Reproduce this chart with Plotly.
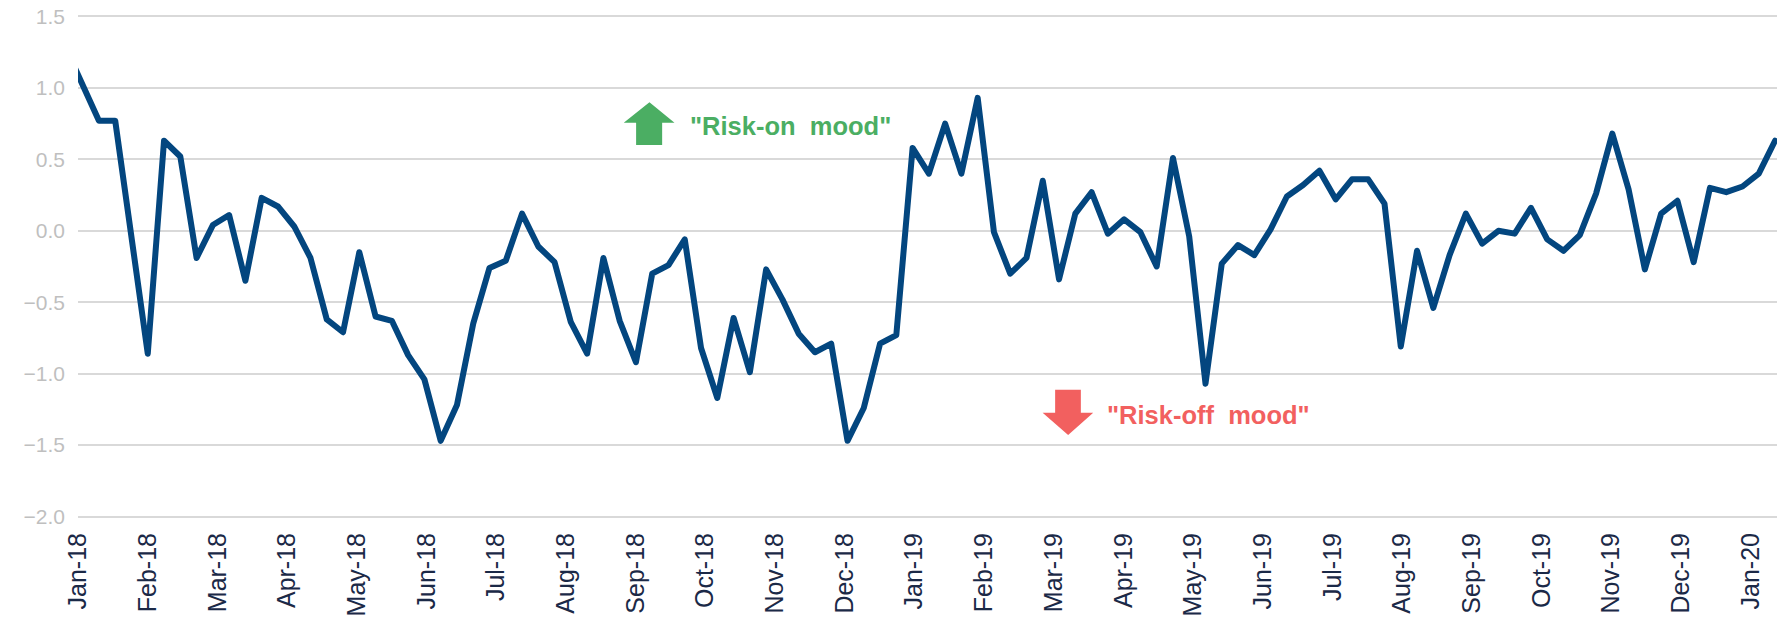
import plotly.graph_objects as go

# weekly risk-appetite reading, Jan-18 .. Jan-20 (one value per week)
RISK_INDEX = [
    1.27, 1.02, 0.77, 0.77, -0.04, -0.86, 0.63, 0.52, -0.19, 0.04,
    0.11, -0.35, 0.23, 0.17, 0.03, -0.19, -0.62, -0.71, -0.15, -0.60,
    -0.63, -0.87, -1.04, -1.47, -1.22, -0.65, -0.26, -0.21, 0.12, -0.11,
    -0.22, -0.64, -0.86, -0.19, -0.63, -0.92, -0.30, -0.24, -0.06, -0.82,
    -1.17, -0.61, -0.99, -0.27, -0.48, -0.72, -0.85, -0.79, -1.47, -1.24,
    -0.79, -0.73, 0.58, 0.40, 0.75, 0.40, 0.93, -0.01, -0.30, -0.19,
    0.35, -0.34, 0.12, 0.27, -0.02, 0.08, -0.01, -0.25, 0.51, -0.04,
    -1.07, -0.23, -0.10, -0.17, 0.01, 0.24, 0.32, 0.42, 0.22, 0.36,
    0.36, 0.19, -0.81, -0.14, -0.54, -0.17, 0.12, -0.09, 0.00, -0.02,
    0.16, -0.06, -0.14, -0.03, 0.26, 0.68, 0.29, -0.27, 0.12, 0.21,
    -0.22, 0.30, 0.27, 0.31, 0.40, 0.63,
]
WEEKS = list(range(len(RISK_INDEX)))

MONTH_LABELS = [
    "Jan-18", "Feb-18", "Mar-18", "Apr-18", "May-18", "Jun-18", "Jul-18",
    "Aug-18", "Sep-18", "Oct-18", "Nov-18", "Dec-18", "Jan-19", "Feb-19",
    "Mar-19", "Apr-19", "May-19", "Jun-19", "Jul-19", "Aug-19", "Sep-19",
    "Oct-19", "Nov-19", "Dec-19", "Jan-20",
]
# month ticks sit at even spacing on the week scale
FIRST_TICK = 0.713
MONTH_STEP = 4.283
month_ticks = [FIRST_TICK + k * MONTH_STEP for k in range(len(MONTH_LABELS))]
X_RANGE = [FIRST_TICK, 105.12]
# tiny pad so the 1.5 / -2.0 gridlines are not dropped at the plot edge
Y_RANGE = [-2.01, 1.51]

FONT = "Arial, 'Liberation Sans', sans-serif"
LINE_BLUE = "#03467F"
GRID = "#D9D9D9"
GREEN = "#4BAE63"
RED = "#F2605F"

fig = go.Figure()
fig.add_trace(go.Scatter(
    x=WEEKS, y=RISK_INDEX, mode="lines",
    line=dict(color=LINE_BLUE, width=6),
    showlegend=False, hoverinfo="y",
))

# block arrows (data coords so they stay put with the axes)
green_arrow = ("M 34.25,0.756 L 35.83,0.899 L 37.37,0.756 L 36.61,0.756 "
               "L 36.61,0.601 L 35.01,0.601 L 35.01,0.756 Z")
red_arrow = ("M 60.76,-1.113 L 62.34,-1.113 L 62.34,-1.274 L 63.10,-1.274 "
             "L 61.56,-1.429 L 59.99,-1.274 L 60.76,-1.274 Z")
fig.add_shape(type="path", path=green_arrow, xref="x", yref="y",
              fillcolor=GREEN, line=dict(width=0))
fig.add_shape(type="path", path=red_arrow, xref="x", yref="y",
              fillcolor=RED, line=dict(width=0))

fig.add_annotation(x=38.2, y=0.733, xref="x", yref="y", xanchor="left", yanchor="middle",
                   text="\"Risk-on\u00a0\u00a0mood\"", showarrow=False,
                   font=dict(family=FONT, size=25.5, color=GREEN, weight="bold"))
fig.add_annotation(x=63.85, y=-1.29, xref="x", yref="y", xanchor="left", yanchor="middle",
                   text="\"Risk-off\u00a0\u00a0mood\"", showarrow=False,
                   font=dict(family=FONT, size=25.5, color=RED, weight="bold"))

fig.update_layout(
    width=1779, height=618,
    margin=dict(l=78, r=2, t=15, b=96),
    plot_bgcolor="white", paper_bgcolor="white",
    font=dict(family=FONT),
    xaxis=dict(
        range=X_RANGE, tickmode="array", tickvals=month_ticks, ticktext=MONTH_LABELS,
        tickangle=-90, showgrid=False, zeroline=False, showline=False, ticks="",
        ticklabelstandoff=9,
        tickfont=dict(family=FONT, size=25, color="#1B2947"),
    ),
    # zero-crossing axis line with the month tick marks
    xaxis2=dict(
        overlaying="x", anchor="free", position=(0 - Y_RANGE[0]) / (Y_RANGE[1] - Y_RANGE[0]),
        range=X_RANGE, tickmode="array", tickvals=month_ticks,
        showticklabels=False, ticks="outside", ticklen=7, tickwidth=1.5, tickcolor=GRID,
        showline=True, linecolor=GRID, linewidth=1.5, showgrid=False, zeroline=False,
    ),
    yaxis=dict(
        range=Y_RANGE, dtick=0.5, tick0=0, tickformat=".1f",
        showgrid=True, gridcolor=GRID, gridwidth=1.5, zeroline=False, showline=False,
        ticklabelstandoff=12,
        tickfont=dict(family=FONT, size=21, color="#BFBFBF"),
    ),
)

# Excel-style rounded corners on the line
round_joins = ("document.body.style.margin='0';"
               "document.querySelectorAll('.js-line').forEach(function(p){"
               "p.style.strokeLinejoin='round';p.style.strokeLinecap='round';});")
fig.write_html("out.html", config={"displayModeBar": False}, post_script=round_joins)
